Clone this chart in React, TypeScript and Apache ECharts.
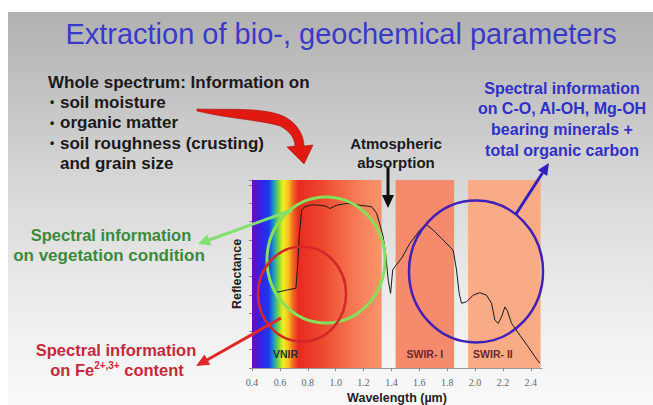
import React, { useEffect, useRef } from 'react';
import * as echarts from 'echarts';

// Spectrum (wavelength in µm, reflectance)
const wavelengths = [0.565, 0.649, 0.715, 0.725, 0.739, 0.756, 0.78, 0.83, 0.887, 0.93, 0.959, 1.007, 1.079, 1.174, 1.258, 1.294, 1.318, 1.341, 1.361, 1.377, 1.394, 1.409, 1.425, 1.473, 1.533, 1.604, 1.652, 1.70, 1.76, 1.819, 1.843, 1.867, 1.886, 1.903, 1.939, 1.986, 2.034, 2.082, 2.118, 2.142, 2.166, 2.19, 2.214, 2.23, 2.262, 2.321, 2.381, 2.429, 2.465];
const reflectance = [0.206, 0.213, 0.218, 0.268, 0.359, 0.432, 0.441, 0.446, 0.445, 0.442, 0.436, 0.445, 0.45, 0.445, 0.441, 0.423, 0.391, 0.359, 0.304, 0.240, 0.204, 0.268, 0.277, 0.30, 0.341, 0.377, 0.391, 0.377, 0.354, 0.331, 0.322, 0.268, 0.204, 0.177, 0.181, 0.199, 0.206, 0.199, 0.177, 0.131, 0.122, 0.140, 0.167, 0.158, 0.122, 0.090, 0.058, 0.031, 0.013];

// Spectral regions
const bandNames = ['VNIR', 'SWIR- I', 'SWIR- II'];
const bandStart = [0.4, 1.43, 1.95];
const bandEnd = [1.33, 1.85, 2.47];

const xMin = 0.4;
const xMax = 2.48;
const xStep = 0.2;

const FONT = '"Liberation Sans", Arial, sans-serif';

function bulletLines() {
  const lines = ['soil moisture', 'organic matter', 'soil roughness (crusting)'];
  const out: any[] = [];
  lines.forEach((t, i) => {
    const y = 102 + i * 20.5;
    out.push({ type: 'text', x: 50, y, z: 100, style: { text: '•', fontSize: 12, fontFamily: FONT, fontWeight: 'bold', fill: '#1a1a1a', verticalAlign: 'middle' } });
    out.push({ type: 'text', x: 60, y, z: 100, style: { text: t, fontSize: 17, fontFamily: FONT, fontWeight: 'bold', fill: '#1a1a1a', verticalAlign: 'middle' } });
  });
  out.push({ type: 'text', x: 60, y: 163, z: 100, style: { text: 'and grain size', fontSize: 17, fontFamily: FONT, fontWeight: 'bold', fill: '#1a1a1a', verticalAlign: 'middle' } });
  return out;
}

function ctext(text: string, x: number, y: number, fill: string, size = 16.5, extra: any = {}) {
  return { type: 'text', x, y, z: 100, style: { text, fontSize: size, fontFamily: FONT, fontWeight: 'bold', fill, align: 'center', verticalAlign: 'middle', ...extra } };
}

export default function App() {
  const ref = useRef<HTMLDivElement>(null);
  useEffect(() => {
    if (!ref.current) return;
    echarts.graphic.registerShape('redArrow', echarts.graphic.extendPath(
      'M197,109 C230,110 265,107 285,117 C298,124 304,136 304,146 L313,145 L304,164 L287,147 L295,146 C295,139 290,131 280,126 C262,120 230,119 197,111 Z', {}) as any);
    const chart = echarts.init(ref.current, undefined, { renderer: 'svg' });

    const vnirGrad = new echarts.graphic.LinearGradient(0, 0, 1, 0, [
      { offset: 0, color: '#6a0dbd' },
      { offset: 0.06, color: '#3a1ee0' },
      { offset: 0.13, color: '#1a3af0' },
      { offset: 0.17, color: '#20a0c0' },
      { offset: 0.2, color: '#70d040' },
      { offset: 0.24, color: '#f0f020' },
      { offset: 0.28, color: '#f8c020' },
      { offset: 0.32, color: '#f06020' },
      { offset: 0.36, color: '#e82a20' },
      { offset: 0.55, color: '#ee4a30' },
      { offset: 0.8, color: '#f67a55' },
      { offset: 1, color: '#f8956a' },
    ]);
    const bandColors: any[] = [vnirGrad, '#f58a6c', '#f9ab85'];
    const bandLabels: any[] = [
      { position: 'insideBottomLeft', distance: 9, offset: [12, 0], color: '#2a2a3a' },
      { position: 'insideBottom', distance: 9, offset: [0, 0], color: '#6a2a2a' },
      { position: 'insideBottomLeft', distance: 9, offset: [-4, 0], color: '#6a2a2a' },
    ];

    const bandData = bandNames.map((name, i) => [
      {
        name,
        xAxis: bandStart[i],
        itemStyle: { color: bandColors[i], opacity: 1 },
        label: { show: true, fontSize: 10.5, fontWeight: 'bold', fontFamily: FONT, ...bandLabels[i] },
      },
      { xAxis: bandEnd[i] },
    ]);

    const bg = new echarts.graphic.LinearGradient(0, 0, 0, 1, [
      { offset: 0, color: '#b1b1b1' },
      { offset: 0.13, color: '#bcbcbc' },
      { offset: 0.4, color: '#d4d4d4' },
      { offset: 0.7, color: '#eaeaea' },
      { offset: 1, color: '#fafafa' },
    ]);

    const option: any = {
      animation: false,
      backgroundColor: '#ffffff',
      grid: { left: 252, right: 111, top: 180, bottom: 37, containLabel: false },
      xAxis: {
        type: 'value',
        min: xMin,
        max: xMax,
        interval: xStep,
        name: 'Wavelength (µm)',
        nameLocation: 'middle',
        nameGap: 23,
        nameTextStyle: { fontSize: 12.5, fontWeight: 'bold', fontFamily: FONT, color: '#222' },
        axisLine: { show: true, lineStyle: { color: '#999', width: 1 } },
        axisTick: { show: true, length: 3, lineStyle: { color: '#888' } },
        axisLabel: {
          showMaxLabel: false,
          margin: 9,
          fontSize: 10,
          fontFamily: '"Liberation Serif", "DejaVu Serif", serif',
          color: '#666',
          formatter: (v: number) => (Math.abs(v / xStep - Math.round(v / xStep)) < 1e-6 ? v.toFixed(1) : ''),
        },
        splitLine: { show: false },
      },
      yAxis: {
        type: 'value',
        min: 0,
        max: 0.514,
        interval: 0.05,
        name: 'Reflectance',
        nameLocation: 'middle',
        nameGap: 9,
        nameTextStyle: { fontSize: 12.5, fontWeight: 'bold', fontFamily: FONT, color: '#222' },
        axisLine: { show: true, lineStyle: { color: '#bbb', width: 1 } },
        axisTick: { show: true, length: 3, lineStyle: { color: '#888' } },
        axisLabel: { show: false },
        splitLine: { show: false },
      },
      graphic: [
        { type: 'rect', z: -100, silent: true, shape: { x: 8, y: 12, width: 645, height: 393 }, style: { fill: bg } },
        ctext('Extraction of bio-, geochemical parameters', 341, 34, '#3a3ac8', 29, { fontWeight: 'normal' }),
        { type: 'text', x: 48, y: 82, z: 100, style: { text: 'Whole spectrum: Information on', fontSize: 17, fontFamily: FONT, fontWeight: 'bold', fill: '#1a1a1a', verticalAlign: 'middle' } },
        ...bulletLines(),
        { type: 'redArrow', x: 0, y: 0, z: 100, scaleX: 1, scaleY: 1, style: { fill: '#e01a10', stroke: '#a81010', lineWidth: 0.6 } },
        ctext('Atmospheric', 396, 143, '#1a1a1a', 15),
        ctext('absorption', 396, 162, '#1a1a1a', 15),
        { type: 'line', z: 100, shape: { x1: 388, y1: 168, x2: 388, y2: 197 }, style: { stroke: '#111', lineWidth: 3 } },
        { type: 'polygon', z: 100, shape: { points: [[382, 195], [394, 195], [388, 208]] }, style: { fill: '#111' } },
        ctext('Spectral information', 562, 88, '#3030c8', 16),
        ctext('on C-O, Al-OH, Mg-OH', 562, 108, '#3030c8', 16),
        ctext('bearing minerals +', 562, 129, '#3030c8', 16),
        ctext('total organic carbon', 562, 150, '#3030c8', 16),
        ctext('Spectral information', 111, 235, '#3a8a3a', 16.5),
        ctext('on vegetation condition', 109, 255, '#3a8a3a', 17),
        ctext('Spectral information', 116, 350, '#c42a3c', 16.5),
        {
          type: 'text', x: 117, y: 370, z: 100,
          style: {
            text: 'on Fe{sup|2+,3+} content', fontSize: 16.5, fontFamily: FONT, fontWeight: 'bold', fill: '#c42a3c',
            align: 'center', verticalAlign: 'middle', lineHeight: 20,
            rich: { sup: { fontSize: 10, fontFamily: FONT, fontWeight: 'bold', fill: '#c42a3c', verticalAlign: 'top', lineHeight: 12 } },
          },
        },
        // circles
        { type: 'ellipse', z: 90, shape: { cx: 326, cy: 260, rx: 59, ry: 63 }, style: { fill: 'none', stroke: '#86e05a', lineWidth: 3 } },
        { type: 'ellipse', z: 91, shape: { cx: 302, cy: 294, rx: 44, ry: 47.5 }, style: { fill: 'none', stroke: '#d42828', lineWidth: 2.5 } },
        { type: 'ellipse', z: 90, shape: { cx: 476, cy: 271.5, rx: 67, ry: 71 }, style: { fill: 'none', stroke: '#4020b8', lineWidth: 2.5 } },
        // arrows
        { type: 'line', z: 100, shape: { x1: 292, y1: 210, x2: 209, y2: 240 }, style: { stroke: '#80e070', lineWidth: 3 } },
        { type: 'polygon', z: 100, shape: { points: [[211.3, 245.5], [207.3, 234.3], [198, 244]] }, style: { fill: '#80e070' } },
        { type: 'line', z: 100, shape: { x1: 281, y1: 318, x2: 207, y2: 360 }, style: { stroke: '#e02828', lineWidth: 3 } },
        { type: 'polygon', z: 100, shape: { points: [[210.3, 364.8], [204.4, 354.4], [196, 366]] }, style: { fill: '#e02828' } },
        { type: 'line', z: 100, shape: { x1: 516, y1: 214, x2: 542.5, y2: 173 }, style: { stroke: '#3020c0', lineWidth: 3 } },
        { type: 'polygon', z: 100, shape: { points: [[547.1, 176.1], [537.9, 170.1], [549, 163]] }, style: { fill: '#3020c0' } },
      ],
      series: [
        {
          type: 'line',
          data: wavelengths.map((w, i) => [w, reflectance[i]]),
          showSymbol: false,
          symbol: 'none',
          lineStyle: { color: '#1a1a1a', width: 1 },
          z: 5,
          markArea: { silent: true, data: bandData },
        },
      ],
    };
    chart.setOption(option);
    return () => chart.dispose();
  }, []);
  return <div ref={ref} style={{ position: 'absolute', left: 0, top: 0, width: 653, height: 405 }} />;
}
